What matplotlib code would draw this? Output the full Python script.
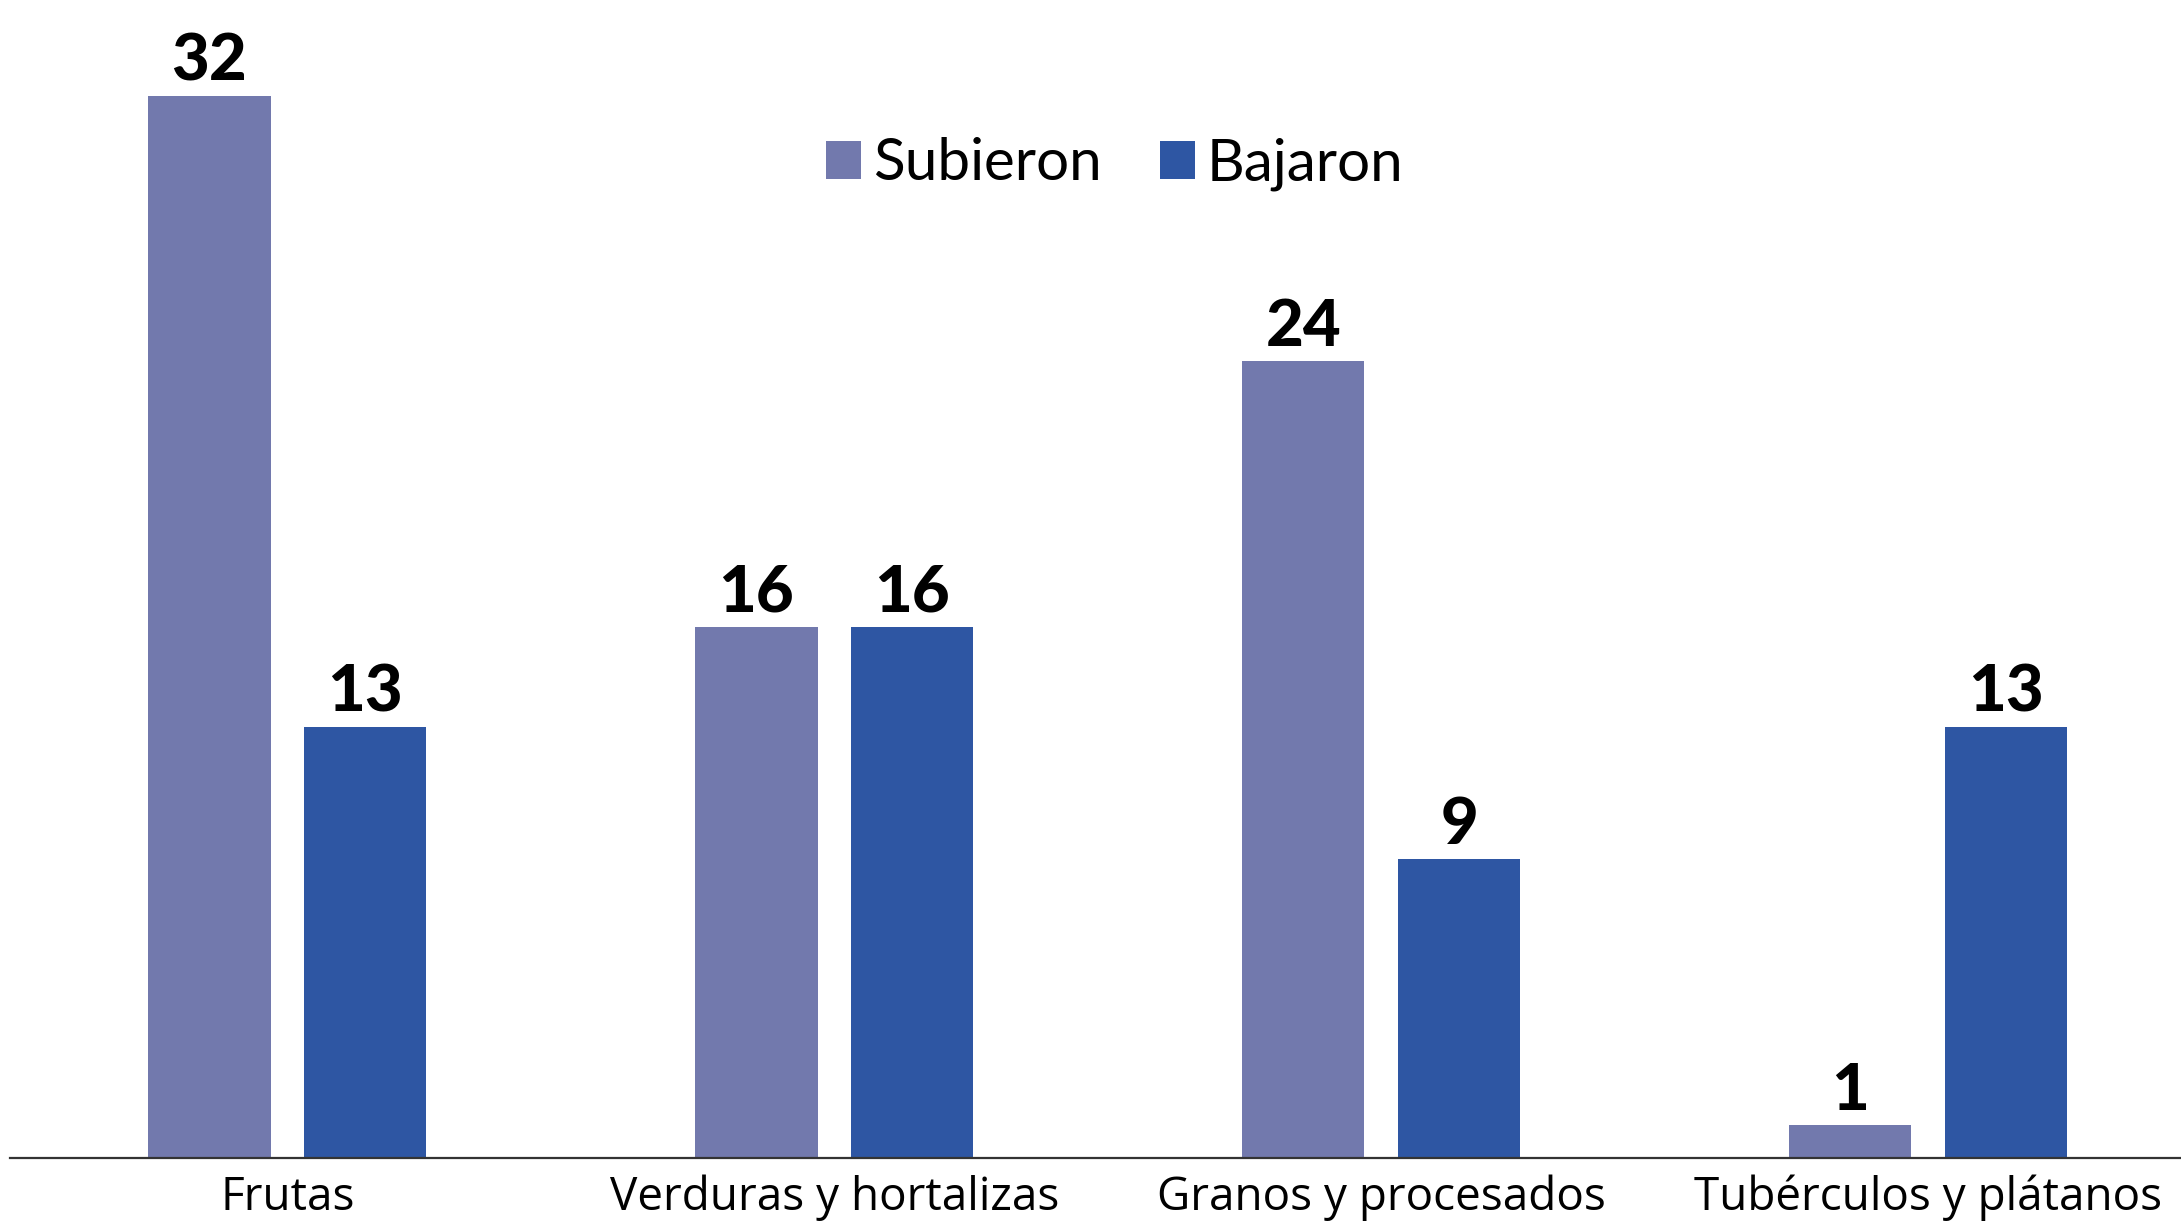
import matplotlib
matplotlib.use("Agg")
import matplotlib.pyplot as plt
import numpy as np

categories = ["Frutas", "Verduras y hortalizas", "Granos y procesados", "Tubérculos y plátanos"]
subieron = [32, 16, 24, 1]
bajaron = [13, 16, 9, 13]
series_names = ["Subieron", "Bajaron"]
colors = ["#7279AD", "#2E56A3"]

W, H, DPI = 2181, 1221, 100
fig = plt.figure(figsize=(W / DPI, H / DPI), dpi=DPI)
ax = fig.add_axes([10 / W, 1 - 1158 / H, 1 - 10 / W, 1158 / H])

x = np.arange(len(categories))
bw = 0.224
off = 0.1425
b1 = ax.bar(x - off, subieron, bw, color=colors[0], label=series_names[0])
b2 = ax.bar(x + off, bajaron, bw, color=colors[1], label=series_names[1])

ax.set_xlim(-0.507, 3.4625)
ax.set_ylim(0, 1158 / 33.19)

for bars, vals in ((b1, subieron), (b2, bajaron)):
    for rect, v in zip(bars, vals):
        ax.annotate(str(v), (rect.get_x() + rect.get_width() / 2, v),
                    xytext=(0, 11), textcoords="offset points",
                    ha="center", va="baseline", fontsize=47,
                    fontfamily="Lato", fontweight="black", color="black")

for s in ["top", "right", "left"]:
    ax.spines[s].set_visible(False)
ax.spines["bottom"].set_color("#333333")
ax.spines["bottom"].set_linewidth(1.6)
ax.set_yticks([])
ax.set_xticks(x)
ax.set_xticklabels(categories, fontsize=33, fontfamily="Open Sans", color="black")
ax.tick_params(axis="x", length=0, pad=12)

fig.legend(handles=[b1, b2], labels=series_names, loc="center",
           bbox_to_anchor=(1115 / W, 1 - 164 / H), ncol=2, frameon=False,
           prop={"family": "Lato", "size": 42},
           handlelength=0.6, handleheight=0.62, handletextpad=0.2,
           columnspacing=1.0, borderpad=0)

fig.savefig("out.png", dpi=DPI)
